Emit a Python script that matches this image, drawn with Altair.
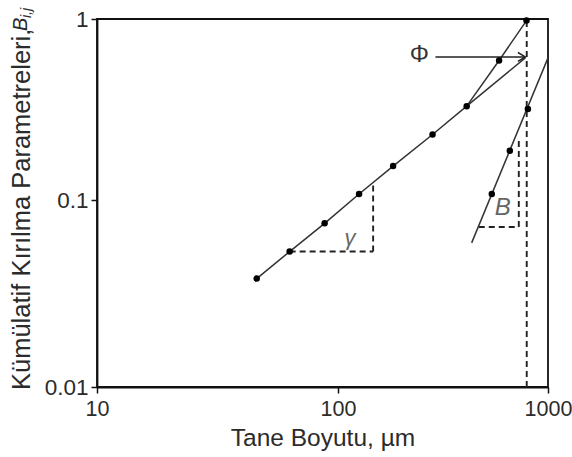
import altair as alt
import pandas as pd

FONT = "Liberation Sans"
INK = "#2b2b2b"

# Measured cumulative breakage parameters (particle size in µm)
main_size = [46, 63, 88, 126, 183, 282, 410, 585, 790]
main_b = [0.038, 0.053, 0.075, 0.108, 0.154, 0.23, 0.33, 0.59, 0.98]

steep_size = [540, 658, 802]
steep_b = [0.108, 0.187, 0.318]

# Fitted lines: gamma branch (runs on to Phi), upper branch, beta line
gamma_fit_size = [46, 63, 88, 126, 183, 282, 410, 780]
gamma_fit_b = [0.038, 0.053, 0.075, 0.108, 0.154, 0.23, 0.33, 0.61]
upper_fit_size = [410, 585, 790]
upper_fit_b = [0.33, 0.59, 0.98]
beta_fit_size = [433, 1000]
beta_fit_b = [0.059, 0.61]

# Dashed construction lines: (x1, y1, x2, y2)
guide_x1 = [63, 147, 468, 726, 792]
guide_y1 = [0.053, 0.053, 0.0717, 0.0717, 0.01]
guide_x2 = [147, 147, 726, 726, 792]
guide_y2 = [0.053, 0.123, 0.0717, 0.215, 0.98]

# Phi arrow
arrow_x1, arrow_x2, arrow_y = 291, 780, 0.617

# Annotation symbols
sym_text = ["γ", "B"]
sym_x = [114, 609]
sym_y = [0.0626, 0.0906]
sym_size = [22, 24]
phi_x, phi_y = 244, 0.633

x_ticks = [10, 100, 1000]
y_ticks = [0.01, 0.1, 1]

W, H = 451, 368

xs = alt.Scale(type="log", domain=x_ticks, range=[0, 241, W], nice=False)
ys = alt.Scale(type="log", domain=y_ticks, range=[H, 181, 0], nice=False)

x_axis = alt.Axis(
    values=x_ticks, format="~g", grid=False, title="Tane Boyutu, µm",
    labelFont=FONT, labelFontSize=21.5, labelColor=INK, labelPadding=5,
    labelFlush=False, labelOverlap=False,
    titleFont=FONT, titleFontSize=24.5, titleFontWeight="normal", titleColor=INK,
    titleBaseline="alphabetic", titleY=58,
    domainColor="#111", domainWidth=1.8, tickColor="#111", tickWidth=1.5, tickSize=6,
)
y_axis = alt.Axis(
    values=y_ticks, format="~g", grid=False, title=None,
    labelFont=FONT, labelFontSize=22.5, labelColor=INK, labelPadding=3,
    labelFlush=False, labelOverlap=False,
    domainColor="#111", domainWidth=1.8, tickColor="#111", tickWidth=1.5, tickSize=6,
)

fits = pd.DataFrame(
    {
        "size": gamma_fit_size + upper_fit_size + beta_fit_size,
        "b": gamma_fit_b + upper_fit_b + beta_fit_b,
        "series": ["gamma"] * len(gamma_fit_size)
        + ["upper"] * len(upper_fit_size)
        + ["beta"] * len(beta_fit_size),
        "i": list(range(len(gamma_fit_size)))
        + list(range(len(upper_fit_size)))
        + list(range(len(beta_fit_size))),
    }
)
fit_lines = alt.Chart(fits).mark_line(color="#333", strokeWidth=1.5).encode(
    x=alt.X("size:Q", scale=xs, axis=x_axis),
    y=alt.Y("b:Q", scale=ys, axis=y_axis),
    detail="series:N",
    order="i:Q",
)

guides = pd.DataFrame({"x1": guide_x1, "y1": guide_y1, "x2": guide_x2, "y2": guide_y2})
guide_rules = alt.Chart(guides).mark_rule(
    color="#222", strokeWidth=1.9, strokeDash=[6, 4]
).encode(
    x=alt.X("x1:Q", scale=xs), y=alt.Y("y1:Q", scale=ys),
    x2="x2:Q", y2="y2:Q",
)

pts = pd.DataFrame({"size": main_size + steep_size, "b": main_b + steep_b})
points = alt.Chart(pts).mark_circle(size=42, color="#000", opacity=1).encode(
    x=alt.X("size:Q", scale=xs), y=alt.Y("b:Q", scale=ys)
)

arrow_df = pd.DataFrame({"x1": [arrow_x1], "x2": [arrow_x2], "y": [arrow_y]})
arrow_line = alt.Chart(arrow_df).mark_rule(color="#222", strokeWidth=1.5).encode(
    x=alt.X("x1:Q", scale=xs), x2="x2:Q", y=alt.Y("y:Q", scale=ys)
)
arrow_head = alt.Chart(arrow_df).mark_point(
    shape="M-1,-0.6L0,0L-1,0.6", size=220, filled=False,
    color="#222", strokeWidth=1.5, opacity=1,
).encode(x=alt.X("x2:Q", scale=xs), y=alt.Y("y:Q", scale=ys))

sym_df = pd.DataFrame({"t": sym_text, "x": sym_x, "y": sym_y, "fs": sym_size})
symbols = alt.Chart(sym_df).mark_text(
    font=FONT, fontStyle="italic", color="#666", align="center", baseline="middle"
).encode(
    x=alt.X("x:Q", scale=xs), y=alt.Y("y:Q", scale=ys), text="t:N",
    size=alt.Size("fs:Q", scale=None, legend=None),
)

phi_df = pd.DataFrame({"t": ["Φ"], "x": [phi_x], "y": [phi_y]})
phi = alt.Chart(phi_df).mark_text(
    font=FONT, fontSize=24, color="#333", align="center", baseline="middle"
).encode(x=alt.X("x:Q", scale=xs), y=alt.Y("y:Q", scale=ys), text="t:N")

# Vertical axis title with italic B and subscript i,j
ytitle_main = alt.Chart(pd.DataFrame({"t": ["Kümülatif Kırılma Parametreleri, "]})).mark_text(
    font=FONT, fontSize=25.5, color=INK, angle=270, align="left", baseline="middle"
).encode(x=alt.value(-75), y=alt.value(371), text="t:N")
ytitle_b = alt.Chart(pd.DataFrame({"t": ["B"]})).mark_text(
    font=FONT, fontSize=20, fontStyle="italic", color=INK, angle=270, align="left", baseline="middle"
).encode(x=alt.value(-76), y=alt.value(12), text="t:N")
ytitle_sub = alt.Chart(pd.DataFrame({"t": ["i,j"]})).mark_text(
    font=FONT, fontSize=14, fontStyle="italic", color=INK, angle=270, align="left", baseline="middle"
).encode(x=alt.value(-70), y=alt.value(-1), text="t:N")

chart = (
    alt.layer(
        guide_rules, fit_lines, arrow_line, arrow_head, points, symbols, phi,
        ytitle_main, ytitle_b, ytitle_sub,
    )
    .properties(
        width=W, height=H,
        autosize=alt.AutoSizeParams(type="none"),
        padding={"left": 97, "top": 19, "right": 24, "bottom": 70},
        background="white",
    )
    .configure_view(stroke="#111", strokeWidth=1.8)
)

chart.save("out.html", embed_options={"renderer": "svg", "actions": False})
